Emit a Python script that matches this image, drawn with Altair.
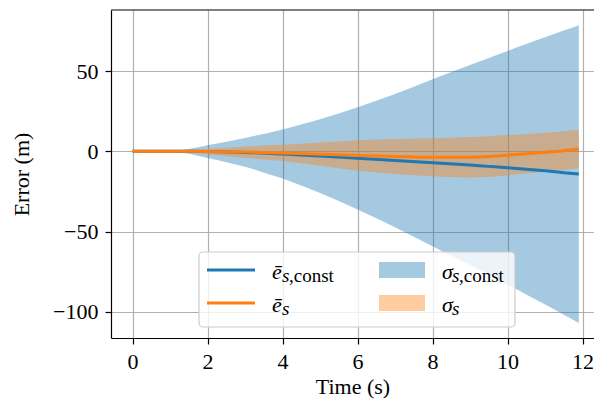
import altair as alt
import pandas as pd

# ---- data ----
time_s = [0, 0.5, 1, 1.5, 2, 3, 4, 5, 6, 7, 8, 9, 9.5, 10, 10.5, 11, 11.5, 11.9]
mean_const = [0, 0, 0, -0.05, -0.2, -0.7, -1.7, -3.0, -4.4, -5.8, -7.1, -8.6, -9.4, -10.2, -11.2, -12.2, -13.3, -14.2]
sigma_const = [0, 0, 0.3, 1.5, 4.0, 9.0, 15.3, 23.0, 31.8, 41.5, 52.0, 62.3, 67.5, 72.7, 78.0, 83.2, 88.5, 92.7]
mean_s = [0, 0, 0, -0.05, -0.2, -0.5, -1.0, -1.8, -2.6, -3.2, -3.7, -3.7, -3.3, -2.4, -1.6, -0.6, 0.4, 1.4]
sigma_s = [0, 0, 0.1, 0.7, 1.7, 3.5, 5.0, 7.2, 9.5, 10.9, 11.8, 12.6, 12.7, 12.5, 12.3, 12.1, 12.0, 12.0]

x_ticks = [0, 2, 4, 6, 8, 10, 12]
y_ticks = [-100, -50, 0, 50]
x_title = "Time (s)"
y_title = "Error (m)"
legend_main = ["ē", "ē", "σ", "σ"]
legend_sub = ["s", "s", "s", "s"]
legend_rest = [",const", "", ",const", ""]

BLUE = "#1f77b4"
ORANGE = "#ff7f0e"
FONT = "Liberation Serif"

W, H = 483, 328

df = pd.DataFrame({
    "t": time_s,
    "mc": mean_const,
    "ms": mean_s,
})
df["lo_c"] = [m - s for m, s in zip(mean_const, sigma_const)]
df["hi_c"] = [m + s for m, s in zip(mean_const, sigma_const)]
df["lo_s"] = [m - s for m, s in zip(mean_s, sigma_s)]
df["hi_s"] = [m + s for m, s in zip(mean_s, sigma_s)]

xscale = alt.Scale(domain=[-0.575, 12.305], nice=False, zero=False)
yscale = alt.Scale(domain=[-116.3, 88.0], nice=False, zero=False)

xaxis = alt.Axis(values=x_ticks, title=x_title, titlePadding=4, labelPadding=7,
                 tickSize=6, format="d")
yaxis = alt.Axis(values=y_ticks, title=y_title, titlePadding=19, labelPadding=7,
                 tickSize=6, labelExpr="replace(datum.label, '-', '\u2212')")

base = alt.Chart(df)

band_c = base.mark_area(color=BLUE, opacity=0.4, interpolate="monotone").encode(
    x=alt.X("t:Q", scale=xscale, axis=xaxis),
    y=alt.Y("lo_c:Q", scale=yscale, axis=yaxis),
    y2="hi_c:Q",
)
band_s = base.mark_area(color=ORANGE, opacity=0.4, interpolate="monotone").encode(
    x=alt.X("t:Q", scale=xscale), y=alt.Y("lo_s:Q", scale=yscale), y2="hi_s:Q"
)
line_c = base.mark_line(color=BLUE, strokeWidth=3, interpolate="monotone").encode(
    x=alt.X("t:Q", scale=xscale), y=alt.Y("mc:Q", scale=yscale)
)
line_s = base.mark_line(color=ORANGE, strokeWidth=3, interpolate="monotone").encode(
    x=alt.X("t:Q", scale=xscale), y=alt.Y("ms:Q", scale=yscale)
)

# ---- legend (decoration) ----
one = alt.Chart(pd.DataFrame({"k": [0]}))
frame = one.mark_rect(fill="white", fillOpacity=0.8, stroke="#cccccc", strokeWidth=1.2,
                      cornerRadius=4).encode(
    x=alt.value(88), x2=alt.value(404), y=alt.value(242), y2=alt.value(317))
leg_lc = one.mark_rule(color=BLUE, strokeWidth=3).encode(
    x=alt.value(96), x2=alt.value(144), y=alt.value(260))
leg_ls = one.mark_rule(color=ORANGE, strokeWidth=3).encode(
    x=alt.value(96), x2=alt.value(144), y=alt.value(293))
leg_bc = one.mark_rect(fill=BLUE, opacity=0.4).encode(
    x=alt.value(268), x2=alt.value(314), y=alt.value(252), y2=alt.value(268))
leg_bs = one.mark_rect(fill=ORANGE, opacity=0.4).encode(
    x=alt.value(268), x2=alt.value(314), y=alt.value(285), y2=alt.value(301))

texts = []
xs_main = [161, 161, 331, 331]
ys_main = [269, 302, 269, 302]
for i in range(4):
    texts.append(one.mark_text(text=legend_main[i], font=FONT, fontSize=22, fontStyle="italic",
                               align="left", baseline="alphabetic", color="black").encode(
        x=alt.value(xs_main[i]), y=alt.value(ys_main[i])))
    texts.append(one.mark_text(text=legend_sub[i], font=FONT, fontSize=19, fontStyle="italic",
                               align="left", baseline="alphabetic", color="black").encode(
        x=alt.value(xs_main[i] + 10), y=alt.value(ys_main[i] + 3)))
    if legend_rest[i]:
        texts.append(one.mark_text(text=legend_rest[i], font=FONT, fontSize=19,
                                   align="left", baseline="alphabetic", color="black").encode(
            x=alt.value(xs_main[i] + 17), y=alt.value(ys_main[i] + 3)))

top_spine = one.mark_rule(color="black", strokeWidth=1.2).encode(
    x=alt.value(0), x2=alt.value(W), y=alt.value(0))

chart = alt.layer(band_c, band_s, line_c, line_s, top_spine, frame, leg_lc, leg_ls,
                  leg_bc, leg_bs, *texts).properties(
    width=W, height=H,
    autosize=alt.AutoSizeParams(type="none"),
    padding={"left": 103, "top": 2, "right": 0, "bottom": 61},
).configure_view(stroke=None).configure_axis(
    labelFont=FONT, labelFontSize=22, labelColor="black",
    titleFont=FONT, titleFontSize=22, titleFontWeight="normal", titleColor="black",
    gridColor="#b0b0b0", gridWidth=1.2, gridOpacity=1,
    tickColor="black", tickWidth=1.2, domainColor="black", domainWidth=1.2,
)

chart.save("out.html", embed_options={"renderer": "svg", "actions": False})
